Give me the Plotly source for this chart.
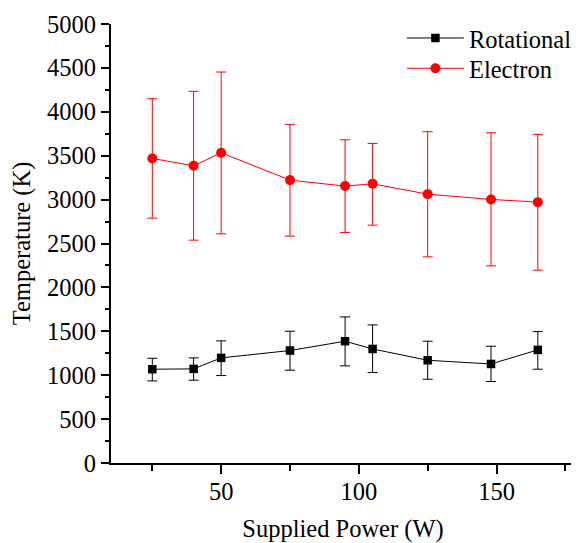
import plotly.graph_objects as go

power = [25, 40, 50, 75, 95, 105, 125, 148, 165]

rot_T = [1068, 1072, 1197, 1281, 1387, 1299, 1170, 1128, 1288]
rot_hi = [1193, 1197, 1391, 1501, 1664, 1573, 1387, 1330, 1497]
rot_lo = [935, 943, 996, 1057, 1106, 1030, 954, 928, 1068]

ele_T = [3469, 3385, 3533, 3222, 3154, 3180, 3062, 3002, 2971]
ele_hi = [4149, 4233, 4453, 3857, 3681, 3640, 3773, 3761, 3743]
ele_lo = [2789, 2538, 2610, 2584, 2626, 2709, 2348, 2245, 2196]

FONT = "Liberation Serif, Times New Roman, serif"
FS = 24.5

fig = go.Figure()
fig.add_trace(go.Scatter(
    x=power, y=rot_T, name="Rotational", mode="lines+markers", legend="legend",
    line=dict(color="black", width=1),
    marker=dict(symbol="square", size=8.5, color="black"),
    error_y=dict(type="data", symmetric=False,
                 array=[h - v for h, v in zip(rot_hi, rot_T)],
                 arrayminus=[v - l for l, v in zip(rot_lo, rot_T)],
                 color="black", thickness=1, width=5),
))
fig.add_trace(go.Scatter(
    x=power, y=ele_T, name="Electron", mode="lines+markers", legend="legend2",
    line=dict(color="red", width=1),
    marker=dict(symbol="circle", size=10, color="red"),
    error_y=dict(type="data", symmetric=False,
                 array=[h - v for h, v in zip(ele_hi, ele_T)],
                 arrayminus=[v - l for l, v in zip(ele_lo, ele_T)],
                 color="red", thickness=1, width=5),
))

leg = dict(xanchor="left", yanchor="middle", bgcolor="rgba(0,0,0,0)",
           font=dict(size=FS, family=FONT), itemsizing="trace", itemwidth=57)

# page body has an 8px margin, so the figure is shifted by 8px
fig.update_layout(
    width=571, height=535,
    margin=dict(l=103, r=2, t=16, b=80),
    paper_bgcolor="white", plot_bgcolor="white",
    font=dict(family=FONT, size=FS, color="black"),
    showlegend=True,
    legend=dict(x=0.627, y=0.968, **leg),
    legend2=dict(x=0.627, y=0.899, **leg),
)
fig.update_xaxes(
    range=[10, 178.5], tickmode="array", tickvals=[50, 100, 150],
    showline=True, linecolor="black", linewidth=2, showgrid=False, zeroline=False,
    ticks="outside", ticklen=9, tickwidth=1.5, tickcolor="black",
    ticklabelstandoff=-3,
    minor=dict(tickvals=[25, 75, 125, 175], ticks="outside", ticklen=6, tickwidth=1.5, tickcolor="black", showgrid=False),
    title=dict(text="Supplied Power (W)", font=dict(size=FS, family=FONT), standoff=17),
)
fig.update_yaxes(
    range=[0, 5000], tickmode="array", tickvals=list(range(0, 5001, 500)),
    showline=True, linecolor="black", linewidth=2, showgrid=False, zeroline=False,
    ticks="outside", ticklen=8, tickwidth=1.5, tickcolor="black",
    minor=dict(tickvals=list(range(250, 5000, 500)), ticks="outside", ticklen=4, tickwidth=1.5, tickcolor="black", showgrid=False),
    title=dict(text="Temperature (K)", font=dict(size=FS, family=FONT), standoff=10),
)

fig.write_html("out.html")
